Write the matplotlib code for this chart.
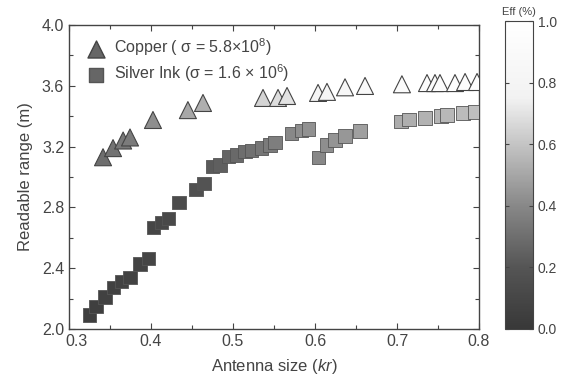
import matplotlib
matplotlib.use("Agg")
import matplotlib.pyplot as plt
from matplotlib.colors import LinearSegmentedColormap
from matplotlib.ticker import MultipleLocator
import matplotlib.transforms as mtransforms
import numpy as np

plt.rcParams['font.family'] = ['Liberation Sans', 'DejaVu Sans']
plt.rcParams['mathtext.fontset'] = 'custom'
plt.rcParams['mathtext.rm'] = 'Liberation Sans'
plt.rcParams['mathtext.it'] = 'Liberation Sans:italic'

# Copper (triangles)
cu_kr = [0.3415, 0.3537, 0.366, 0.3744, 0.4024, 0.445, 0.4634,
         0.5366, 0.5549, 0.5659, 0.6037, 0.6146, 0.6366, 0.661,
         0.706, 0.7366, 0.7463, 0.7524, 0.7707, 0.783, 0.7976]
cu_range = [3.13, 3.19, 3.24, 3.26, 3.375, 3.44, 3.487,
            3.52, 3.52, 3.533, 3.553, 3.56, 3.59, 3.599,
            3.61, 3.618, 3.618, 3.618, 3.618, 3.625, 3.625]
cu_eff = [0.30, 0.32, 0.34, 0.35, 0.42, 0.50, 0.53,
          0.65, 0.68, 0.70, 0.78, 0.80, 0.85, 0.88,
          0.92, 0.93, 0.93, 0.94, 0.95, 0.95, 0.96]

# Silver ink (squares)
ag_kr = [0.3248, 0.3329, 0.3439, 0.354, 0.3643, 0.3744, 0.3866, 0.3967,
         0.4028, 0.413, 0.4211, 0.434, 0.4549, 0.4646, 0.4752, 0.4841,
         0.4943, 0.5045, 0.5146, 0.5228, 0.535, 0.5451, 0.5512, 0.5716,
         0.5838, 0.5918, 0.604, 0.6143, 0.6244, 0.6366, 0.6549, 0.7049,
         0.7146, 0.7341, 0.7537, 0.761, 0.7805, 0.7951]
ag_range = [2.092, 2.147, 2.212, 2.274, 2.311, 2.340, 2.426, 2.465,
            2.669, 2.70, 2.728, 2.833, 2.919, 2.958, 3.068, 3.079,
            3.134, 3.145, 3.167, 3.173, 3.189, 3.211, 3.226, 3.287,
            3.305, 3.314, 3.127, 3.212, 3.243, 3.27, 3.303, 3.365,
            3.378, 3.388, 3.401, 3.408, 3.421, 3.428]
ag_eff = [0.05, 0.05, 0.06, 0.06, 0.07, 0.07, 0.08, 0.09,
          0.10, 0.11, 0.12, 0.14, 0.17, 0.19, 0.22, 0.24,
          0.26, 0.28, 0.30, 0.31, 0.33, 0.35, 0.36, 0.40,
          0.42, 0.43, 0.40, 0.42, 0.44, 0.45, 0.48, 0.52,
          0.53, 0.54, 0.55, 0.56, 0.57, 0.58]

x_ticks = [0.3, 0.4, 0.5, 0.6, 0.7, 0.8]
y_ticks = [2.0, 2.4, 2.8, 3.2, 3.6, 4.0]
cb_ticks = [0.0, 0.2, 0.4, 0.6, 0.8, 1.0]

cmap = LinearSegmentedColormap.from_list(
    'eff', [(0.0, '#383838'), (0.2, '#555555'), (0.4, '#888888'),
            (0.6, '#c4c4c4'), (0.75, '#f2f2f2'), (1.0, '#ffffff')])

fig = plt.figure(figsize=(5.66, 3.87), dpi=100)
ax = fig.add_axes([0.1219, 0.1499, 0.7244, 0.7855])
cax = fig.add_axes([0.8922, 0.1499, 0.0495, 0.7958])

sc1 = ax.scatter(cu_kr, cu_range, c=cu_eff, cmap=cmap, vmin=0, vmax=1,
                 marker='^', s=150, edgecolors='#444444', linewidths=0.8, zorder=3)
sc2 = ax.scatter(ag_kr, ag_range, c=ag_eff, cmap=cmap, vmin=0, vmax=1,
                 marker='s', s=95, edgecolors='#555555', linewidths=0.6, zorder=3)

ax.set_xlim(0.3, 0.8)
ax.set_ylim(2.0, 4.0)
ax.set_xticks(x_ticks)
ax.set_yticks(y_ticks)
ax.set_xticklabels([f'{v:.1f}' for v in x_ticks])
ax.set_yticklabels([f'{v:.1f}' for v in y_ticks])
ax.xaxis.set_minor_locator(MultipleLocator(0.05))
ax.yaxis.set_minor_locator(MultipleLocator(0.2))
ax.tick_params(which='both', direction='in', top=True, right=True,
               colors='#444444', labelcolor='#444444', labelsize=11.5)
ax.tick_params(which='major', length=4, width=0.8)
ax.tick_params(which='minor', length=3, width=0.8)
for sp in ax.spines.values():
    sp.set_color('#444444')
    sp.set_linewidth(1.0)

# first x tick label sits slightly right of its tick in the reference
first_lbl = ax.get_xticklabels()[0]
first_lbl.set_transform(first_lbl.get_transform() +
                        mtransforms.ScaledTranslation(8 / 100, 0, fig.dpi_scale_trans))

ax.set_xlabel(r'Antenna size ($\mathit{kr}$)', fontsize=12, color='#444444', labelpad=6)
ax.set_ylabel('Readable range (m)', fontsize=12, color='#444444', labelpad=6)

h1 = ax.scatter([], [], marker='^', s=150, c='#666666', edgecolors='#444444')
h2 = ax.scatter([], [], marker='s', s=95, c='#666666', edgecolors='#555555')
leg = ax.legend([h1, h2],
                [r'Copper ( σ = 5.8×10$^{8}$)', r'Silver Ink (σ = 1.6 × 10$^{6}$)'],
                loc='upper left', frameon=False, fontsize=11.5,
                handletextpad=0.1, labelspacing=0.3, borderaxespad=0.3,
                labelcolor='#444444')

cb = fig.colorbar(sc1, cax=cax, ticks=cb_ticks)
cb.ax.set_yticklabels([f'{v:.1f}' for v in cb_ticks])
cb.ax.tick_params(direction='in', length=3, colors='#444444', labelcolor='#444444',
                  labelsize=10, left=True, right=True)
cb.outline.set_edgecolor('#444444')
cb.ax.set_title('Eff (%)', fontsize=8, color='#444444', pad=4)

fig.savefig('out.png', dpi=100)
